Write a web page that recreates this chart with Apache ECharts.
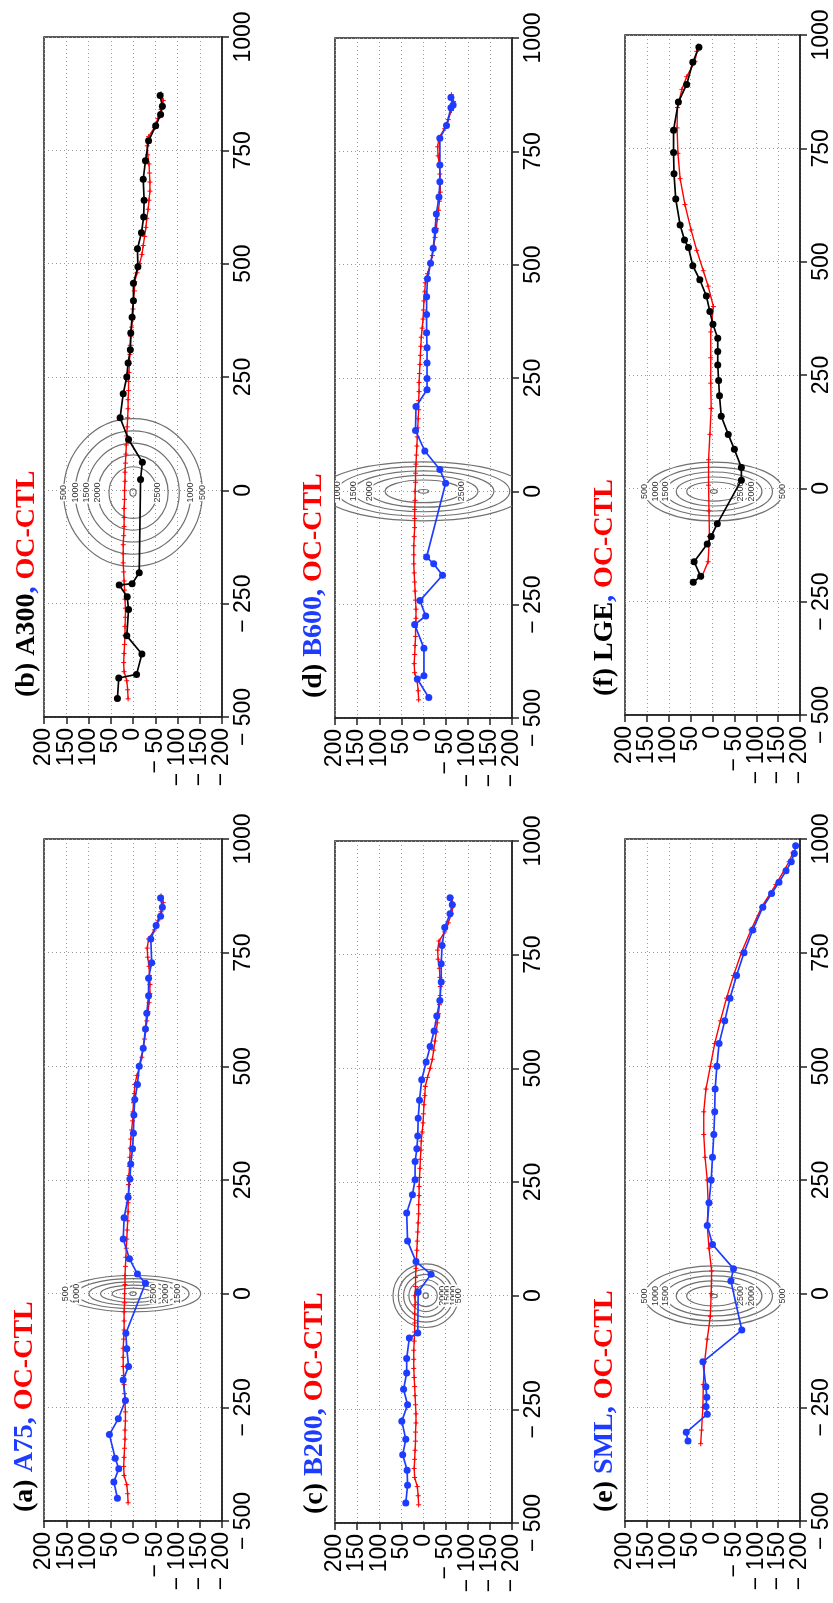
<!DOCTYPE html>
<html>
<head>
<meta charset="utf-8">
<script src="https://cdn.jsdelivr.net/npm/echarts/dist/echarts.min.js"></script>
<style>
html, body { margin: 0; padding: 0; background: #fff; }
#chart { width: 833px; height: 1603px; }
</style>
</head>
<body>
<div id="chart"></div>
<script>
// ---------------------------------------------------------------
// Axis ticks
const distTicks = [-500, -250, 0, 250, 500, 750, 1000];
const valueTicks = [200, 150, 100, 50, 0, -50, -100, -150, -200];

// OC-CTL difference along the cross-section, shared by panels (a)-(d)
const ocDistAD = [-460,-440,-420,-400,-380,-360,-340,-320,-300,-280,-260,-240,-220,-200,-180,-160,-140,-120,-100,-80,-60,-40,-20,0,20,40,60,80,100,120,140,160,180,200,220,240,260,280,300,320,340,360,380,400,420,440,460,480,500,520,540,560,580,600,620,640,660,680,700,720,740,760,780,800,820,840,860,875];
const ocValAD = [11,12,14,20,21,20,19,18,18,17,17,18,19,20,21,22,22,22,21,20,20,20,19,19,18,18,17,16,15,14,13,12,11,11,10,10,9,8,7,6,5,3,1,0,-1,-3,-4,-9,-15,-20,-23,-26,-29,-31,-34,-36,-38,-38,-37,-36,-33,-32,-35,-48,-56,-63,-68,-63];

// OC-CTL for the SML track (e)
const ocDistE = [-330,-300,-250,-200,-150,-100,-50,0,50,100,150,200,250,300,350,400,450,500,550,600,650,700,750,800,850,900,950,970];
const ocValE = [27,25,22,21,18,12,5,3,2,8,12,10,12,17,20,20,15,5,-5,-18,-32,-48,-66,-88,-112,-145,-175,-184];

// OC-CTL for the LGE track (f)
const ocDistF = [-196,-162,-106,-50,7,63,119,176,232,288,345,401,446,480,525,570,626,683,739,795,840,880,908,942,964,976];
const ocValF = [25,10,7,8,9,9,6,3,4,4,4,-2,10,21,36,49,63,74,79,81,80,70,59,40,36,33];

// Sensitivity runs
const a75Dist = [-450,-414,-385,-362,-310,-275,-235,-190,-160,-121,-87,23,43,77,120,167,212,252,285,319,353,393,427,460,500,540,582,617,655,694,728,780,810,830,850,870];
const a75Val = [35,43,32,40,53,33,17,22,10,14,16,-28,-10,8,22,20,11,7,5,1,-1,-2,-4,-10,-14,-23,-28,-31,-35,-35,-42,-40,-52,-62,-66,-62];

const a300Dist = [-459,-414,-406,-361,-321,-263,-235,-209,-206,-182,24,62,112,160,213,250,281,310,347,382,418,457,493,533,568,603,640,686,727,771,804,829,847,871];
const a300Val = [35,32,-8,-20,14,10,13,31,2,-14,-17,-21,10,29,22,14,11,6,5,2,-1,-1,-11,-10,-19,-24,-25,-23,-28,-35,-51,-62,-66,-61];

const b200Dist = [-456,-417,-384,-350,-316,-276,-240,-206,-170,-138,-93,-82,8,47,75,120,182,222,255,295,323,351,390,430,475,514,548,582,615,649,690,730,770,810,840,860,875];
const b200Val = [40,36,37,47,40,49,36,45,38,38,32,13,12,-17,17,36,38,25,19,19,15,13,12,9,4,-6,-15,-24,-30,-37,-40,-40,-42,-48,-60,-65,-60];

const b600Dist = [-455,-414,-407,-346,-294,-275,-241,-185,-160,-145,18,48,89,134,187,224,249,283,317,350,390,429,469,503,536,576,612,649,683,720,779,807,846,852,869];
const b600Val = [-12,14,-1,-1,20,-5,8,-43,-23,-7,-50,-37,-3,18,17,-8,-8,-8,-8,-7,-7,-7,-9,-16,-22,-26,-29,-35,-37,-37,-37,-52,-62,-67,-62];

const smlDist = [-324,-305,-265,-248,-228,-205,-150,-80,28,55,108,150,200,250,300,350,400,450,500,550,600,650,700,750,800,850,880,905,930,950,968,985];
const smlVal = [56,60,12,15,13,15,22,-67,-42,-48,0,12,8,3,0,-3,-5,-6,-10,-15,-28,-40,-55,-72,-92,-115,-135,-152,-168,-180,-187,-190];

const lgeDist = [-207,-194,-162,-123,-106,-78,18,46,86,119,159,204,238,272,302,331,362,390,424,460,491,531,548,581,638,694,741,790,852,891,940,973];
const lgeVal = [44,27,42,12,3,-11,-66,-66,-50,-36,-20,-16,-14,-12,-12,-12,-1,6,14,29,45,55,64,74,84,88,89,89,78,59,45,31];

// Terrain height contours (m) and their semi-axes along the value / distance axes
const terrainLevels = [500, 1000, 1500, 2000, 2500, 3000];
const ringValA = [152, 126, 99, 73, 47, 7];
const ringDistA = [40, 33, 26, 19, 12, 4];
const ringValB = [156, 130, 104, 79, 54, 7];
const ringDistB = [163, 136, 109, 83, 57, 8];
const ringValC = [74, 62, 50, 38, 26, 6];
const ringDistC = [70, 58, 47, 35, 24, 6];
const ringValD = [231, 195, 159, 123, 87, 12];
const ringDistD = [65, 55, 45, 35, 25, 4];
const ringValE = [158, 134, 110, 86, 62, 8];
const ringDistE = [66, 55, 44, 33, 22, 4];
const ringValF = [158, 134, 110, 86, 62, 8];
const ringDistF = [65, 54, 43, 32, 21, 4];
// contour label placement: [level, side] (+1 toward +value, -1 toward -value)
const ringLabelsA = [[500, 1], [1000, 1], [2500, -1], [2000, -1], [1500, -1]];
const ringLabelsB = [[500, 1], [1000, 1], [1500, 1], [2000, 1], [2500, -1], [1000, -1], [500, -1]];
const ringLabelsC = [[2000, -1], [1500, -1], [1000, -1], [500, -1]];
const ringLabelsD = [[1000, 1], [1500, 1], [2000, 1], [2500, -1]];
const ringLabelsE = [[500, 1], [1000, 1], [1500, 1], [2500, -1], [2000, -1], [500, -1]];
const ringLabelsF = [[500, 1], [1000, 1], [1500, 1], [2500, -1], [2000, -1], [500, -1]];

// ---------------------------------------------------------------
const BLUE = '#1e3cff';
const RED = '#ff0000';
const AXIS = '#222';
const TICK_FONT = '23px "Liberation Sans", Arial, sans-serif';

const panels = [
  { tag: '(b) ', run: 'A300', runColor: '#000', dist: a300Dist, val: a300Val, lineColor: '#000',
    ocDist: ocDistAD, ocVal: ocValAD, ringVal: ringValB, ringDist: ringDistB, ringLabels: ringLabelsB, ringCenter: [0, -5],
    grid: { left: 44, top: 37, width: 178, height: 680 }, title: [26.5, 697] },
  { tag: '(d) ', run: 'B600', runColor: BLUE, dist: b600Dist, val: b600Val, lineColor: BLUE,
    ocDist: ocDistAD, ocVal: ocValAD, ringVal: ringValD, ringDist: ringDistD, ringLabels: ringLabelsD, ringCenter: [0, 0],
    grid: { left: 335, top: 38, width: 177, height: 680 }, title: [314, 698] },
  { tag: '(f) ', run: 'LGE', runColor: '#000', dist: lgeDist, val: lgeVal, lineColor: '#000',
    ocDist: ocDistF, ocVal: ocValF, ringVal: ringValF, ringDist: ringDistF, ringLabels: ringLabelsF, ringCenter: [-3, -7],
    grid: { left: 625, top: 35, width: 178, height: 680 }, title: [605, 696] },
  { tag: '(a) ', run: 'A75', runColor: BLUE, dist: a75Dist, val: a75Val, lineColor: BLUE,
    ocDist: ocDistAD, ocVal: ocValAD, ringVal: ringValA, ringDist: ringDistA, ringLabels: ringLabelsA, ringCenter: [0, 0],
    grid: { left: 44, top: 839, width: 178, height: 682 }, title: [25, 1512] },
  { tag: '(c) ', run: 'B200', runColor: BLUE, dist: b200Dist, val: b200Val, lineColor: BLUE,
    ocDist: ocDistAD, ocVal: ocValAD, ringVal: ringValC, ringDist: ringDistC, ringLabels: ringLabelsC, ringCenter: [-5, 0],
    grid: { left: 335, top: 841, width: 177, height: 682 }, title: [315, 1514] },
  { tag: '(e) ', run: 'SML', runColor: BLUE, dist: smlDist, val: smlVal, lineColor: BLUE,
    ocDist: ocDistE, ocVal: ocValE, ringVal: ringValE, ringDist: ringDistE, ringLabels: ringLabelsE, ringCenter: [-3, -5],
    grid: { left: 625, top: 839, width: 178, height: 682 }, title: [605, 1512] }
];

function tickLabel(v) {
  return v < 0 ? '\u2212 ' + (-v) : String(v);
}

const dotted = { type: [1, 3], color: '#9a9a9a', width: 1 };

const option = {
  animation: false,
  backgroundColor: '#fff',
  grid: [], xAxis: [], yAxis: [], series: [], graphic: []
};

panels.forEach((p, i) => {
  option.grid.push(Object.assign({ show: true, borderColor: AXIS, borderWidth: 1.5, backgroundColor: 'transparent' }, p.grid));

  option.xAxis.push({
    gridIndex: i, type: 'value', min: valueTicks[valueTicks.length - 1], max: valueTicks[0], interval: 50,
    inverse: true, position: 'bottom',
    axisLine: { show: true, onZero: false, lineStyle: { color: AXIS, width: 1.5 } },
    axisTick: { show: true, inside: false, length: 7, lineStyle: { color: AXIS, width: 1.5 } },
    axisLabel: { show: false },
    splitLine: { show: true, lineStyle: dotted }
  });

  option.yAxis.push({
    gridIndex: i, type: 'value', min: distTicks[0], max: distTicks[distTicks.length - 1], interval: 250,
    position: 'right',
    axisLine: { show: true, onZero: false, lineStyle: { color: AXIS, width: 1.5 } },
    axisTick: { show: true, inside: false, length: 7, lineStyle: { color: AXIS, width: 1.5 } },
    axisLabel: { rotate: 90, margin: 10, formatter: tickLabel, showMinLabel: true, showMaxLabel: true,
                 fontFamily: 'Liberation Sans, Arial, sans-serif', fontSize: 23, color: '#000' },
    splitLine: { show: true, lineStyle: dotted }
  });

  // value-axis tick labels, rotated to read upward beneath each tick
  option.series.push({
    type: 'custom', xAxisIndex: i, yAxisIndex: i, clip: false, silent: true, z: 5,
    data: valueTicks.map(v => [v, distTicks[0]]),
    renderItem: function (params, api) {
      const c = api.coord([api.value(0), api.value(1)]);
      return {
        type: 'text', x: c[0], y: c[1] + 11, rotation: Math.PI / 2,
        style: {
          text: tickLabel(api.value(0)), fill: '#000', font: TICK_FONT,
          align: 'right', verticalAlign: 'middle'
        }
      };
    }
  });

  // terrain rings: [level, semi-axis along value, semi-axis along distance, centre value, centre distance]
  const rings = terrainLevels.map((lv, k) => [lv, p.ringVal[k], p.ringDist[k], p.ringCenter[0], p.ringCenter[1]]);
  option.series.push({
    type: 'custom', xAxisIndex: i, yAxisIndex: i, clip: true, silent: true, z: 1,
    data: rings,
    renderItem: function (params, api) {
      const c = api.coord([api.value(3), api.value(4)]);
      const s = api.size([api.value(1), api.value(2)]);
      return {
        type: 'ellipse',
        shape: { cx: c[0], cy: c[1], rx: s[0], ry: s[1] },
        style: { fill: null, stroke: '#707070', lineWidth: 1.2 }
      };
    }
  });

  // contour labels sit on the ring at the centre distance
  const labelRows = p.ringLabels.map(([lv, side]) => {
    const k = terrainLevels.indexOf(lv);
    return [p.ringCenter[0] + side * p.ringVal[k], p.ringCenter[1], lv];
  });
  option.series.push({
    type: 'custom', xAxisIndex: i, yAxisIndex: i, clip: true, silent: true, z: 2,
    data: labelRows,
    renderItem: function (params, api) {
      const c = api.coord([api.value(0), api.value(1)]);
      return {
        type: 'text', x: c[0], y: c[1], rotation: Math.PI / 2,
        style: {
          text: String(api.value(2)), fill: '#333',
          font: '9px "Liberation Sans", Arial, sans-serif',
          align: 'center', verticalAlign: 'middle',
          backgroundColor: '#fff', padding: [0, 1]
        }
      };
    }
  });

  // OC-CTL (red, + markers)
  option.series.push({
    type: 'line', xAxisIndex: i, yAxisIndex: i, z: 3,
    data: p.ocDist.map((d, k) => [p.ocVal[k], d]),
    symbol: 'path://M5,0L5,10M0,5L10,5', symbolSize: 5, showSymbol: true,
    itemStyle: { color: 'transparent', borderColor: RED, borderWidth: 1 },
    lineStyle: { color: RED, width: 1.4 }
  });

  // sensitivity run (dots)
  option.series.push({
    type: 'line', xAxisIndex: i, yAxisIndex: i, z: 4,
    data: p.dist.map((d, k) => [p.val[k], d]),
    symbol: 'circle', symbolSize: 7, showSymbol: true,
    itemStyle: { color: p.lineColor },
    lineStyle: { color: p.lineColor, width: 1.7 }
  });

  // panel title, reading upward along the left side
  const runText = p.runColor === '#000' ? '{k|' + p.tag + p.run + '}{bl|,}' : '{k|' + p.tag + '}{bl|' + p.run + ',}';
  option.graphic.push({
    type: 'text', x: p.title[0], y: p.title[1], rotation: Math.PI / 2,
    style: {
      text: runText + ' {r|OC-CTL}',
      align: 'left', verticalAlign: 'middle',
      font: 'bold 28px "Liberation Serif", "Times New Roman", serif',
      fill: '#000',
      rich: {
        k: { fill: '#000', fontSize: 28, fontWeight: 'bold', fontFamily: 'Liberation Serif' },
        bl: { fill: BLUE, fontSize: 28, fontWeight: 'bold', fontFamily: 'Liberation Serif' },
        r: { fill: RED, fontSize: 28, fontWeight: 'bold', fontFamily: 'Liberation Serif' }
      }
    }
  });
});

const chart = echarts.init(document.getElementById('chart'), null, { renderer: 'canvas', width: 833, height: 1603 });
chart.setOption(option);
</script>
</body>
</html>
